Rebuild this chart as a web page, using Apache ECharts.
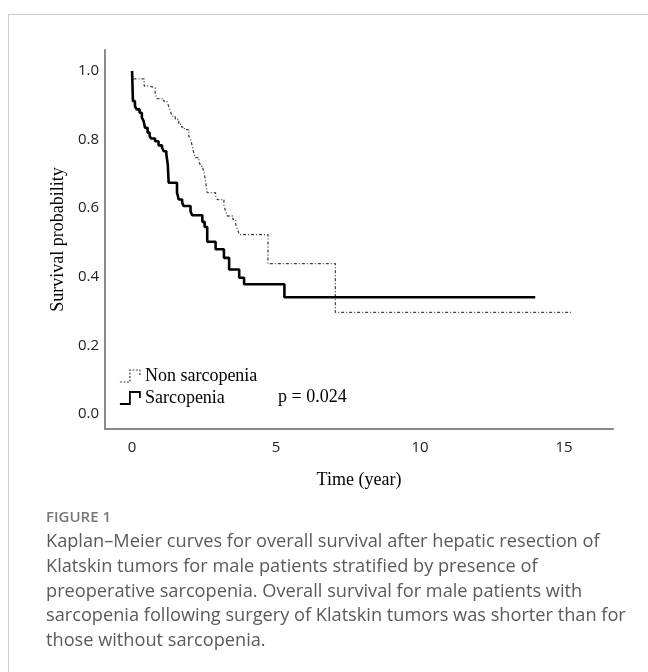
<!DOCTYPE html>
<html>
<head>
<meta charset="utf-8">
<script src="https://cdn.jsdelivr.net/npm/echarts/dist/echarts.min.js"></script>
<style>
html,body{margin:0;padding:0;background:#fff;}
#c{width:648px;height:672px;}
</style>
</head>
<body>
<div id="c"></div>
<script>
// Sarcopenia group (solid line): event times (years) and survival after each drop
var sarcT = [0, 0.01, 0.02, 0.03, 0.10, 0.16, 0.26, 0.34, 0.40, 0.45,
             0.54, 0.61, 0.66, 0.80, 0.92, 1.04, 1.10, 1.19, 1.24, 1.27,
             1.56, 1.62, 1.74, 1.79, 2.03, 2.09, 2.44, 2.52, 2.61, 2.90,
             3.19, 3.37, 3.72, 3.89, 5.29, 14.0];
var sarcS = [1.0, 0.97, 0.94, 0.912, 0.897, 0.888, 0.878, 0.864, 0.854, 0.834,
             0.820, 0.810, 0.803, 0.795, 0.783, 0.776, 0.766, 0.757, 0.727, 0.674,
             0.645, 0.625, 0.616, 0.606, 0.590, 0.579, 0.560, 0.545, 0.502, 0.480,
             0.455, 0.421, 0.397, 0.378, 0.340, 0.340];
// Non sarcopenia group (dotted line)
var nonT = [0, 0.05, 0.42, 0.60, 0.80, 0.86, 1.09, 1.21, 1.27, 1.33,
            1.39, 1.50, 1.62, 1.72, 1.82, 1.97, 2.03, 2.09, 2.14, 2.20,
            2.32, 2.38, 2.46, 2.50, 2.55, 2.61, 2.90, 2.96, 3.19, 3.25,
            3.31, 3.50, 3.60, 3.66, 3.72, 4.72, 7.06, 15.3];
var nonS = [1.0, 0.977, 0.956, 0.951, 0.936, 0.919, 0.912, 0.907, 0.897, 0.883,
            0.868, 0.859, 0.844, 0.836, 0.829, 0.810, 0.800, 0.781, 0.762, 0.747,
            0.737, 0.722, 0.716, 0.703, 0.679, 0.645, 0.635, 0.625, 0.606, 0.591,
            0.577, 0.567, 0.552, 0.538, 0.523, 0.438, 0.296, 0.296];
var xTicks = [0, 5, 10, 15];
var yTicks = [0, 0.2, 0.4, 0.6, 0.8, 1.0];
var seriesNames = ['Non sarcopenia', 'Sarcopenia'];
var pText = 'p = 0.024';
var figLabel = 'FIGURE 1';
var captionLines = [
  'Kaplan\u2013Meier curves for overall survival after hepatic resection of',
  'Klatskin tumors for male patients stratified by presence of',
  'preoperative sarcopenia. Overall survival for male patients with',
  'sarcopenia following surgery of Klatskin tumors was shorter than for',
  'those without sarcopenia.'
];

function pairs(ts, ss){ return ts.map(function(t,i){ return [t, ss[i]]; }); }

var stepIcon = 'path://M0,12 L10,12 L10,0 L20,0 L20,6';
var serif = 'Liberation Serif';
var sans = 'Open Sans';

var chart = echarts.init(document.getElementById('c'), null, {renderer:'canvas'});
chart.setOption({
  animation: false,
  backgroundColor: '#fff',
  grid: {left: 105, right: 35, top: 50, bottom: 243, containLabel: false},
  title: [
    {text: pText, left: 278, top: 388, padding: 0,
     textStyle: {fontFamily: serif, fontSize: 18, fontWeight: 'normal', color: '#000'}},
    {text: figLabel, left: 46, top: 509, padding: 0,
     textStyle: {fontFamily: sans, fontSize: 15, fontWeight: 600, color: '#777', lineHeight: 18}},
    {text: captionLines.join('\n'), left: 46, top: 530, padding: 0,
     textStyle: {fontFamily: sans, fontSize: 18.2, fontWeight: 'normal', color: '#5a5a5a', lineHeight: 24.6}}
  ],
  graphic: [
    {type: 'rect', shape: {x: 8.5, y: 14.5, width: 700, height: 700},
     style: {fill: 'none', stroke: '#cccccc', lineWidth: 1}, silent: true, z: -1}
  ],
  legend: {
    orient: 'vertical', left: 119, top: 367, padding: 0, itemWidth: 20, itemHeight: 12, itemGap: 4,
    textStyle: {fontFamily: serif, fontSize: 18, color: '#000'},
    data: [
      {name: seriesNames[0], icon: stepIcon,
       itemStyle: {color: 'rgba(0,0,0,0)', borderColor: '#444', borderWidth: 1.2, borderType: [2, 1.5]}},
      {name: seriesNames[1], icon: stepIcon,
       itemStyle: {color: 'rgba(0,0,0,0)', borderColor: '#000', borderWidth: 1.8}}
    ]
  },
  xAxis: {
    type: 'value', min: -0.94, max: 16.7,
    name: 'Time (year)', nameLocation: 'middle', nameGap: 42,
    nameTextStyle: {fontFamily: serif, fontSize: 18, color: '#000'},
    axisLine: {show: true, onZero: false, lineStyle: {color: '#8a8a8a', width: 2}},
    axisTick: {show: false},
    splitLine: {show: false},
    axisLabel: {customValues: xTicks, fontFamily: sans, fontSize: 15, color: '#222', margin: 11}
  },
  yAxis: {
    type: 'value', min: -0.044, max: 1.061,
    name: 'Survival probability', nameLocation: 'middle', nameGap: 37, nameRotate: 90,
    nameTextStyle: {fontFamily: serif, fontSize: 18, color: '#000'},
    axisLine: {show: true, onZero: false, lineStyle: {color: '#8a8a8a', width: 2}},
    axisTick: {show: false},
    splitLine: {show: false},
    axisLabel: {customValues: yTicks, fontFamily: sans, fontSize: 15, color: '#222', margin: 6,
      formatter: function(v){ return v.toFixed(1); }}
  },
  series: [
    {name: seriesNames[0], type: 'line', step: 'end', symbol: 'none',
     data: pairs(nonT, nonS),
     lineStyle: {color: '#444', width: 1.3, type: [3, 2, 1, 2]}, itemStyle: {color: '#444'}},
    {name: seriesNames[1], type: 'line', step: 'end', symbol: 'none',
     data: pairs(sarcT, sarcS),
     lineStyle: {color: '#000', width: 2.6}, itemStyle: {color: '#000'}}
  ]
});
</script>
</body>
</html>
